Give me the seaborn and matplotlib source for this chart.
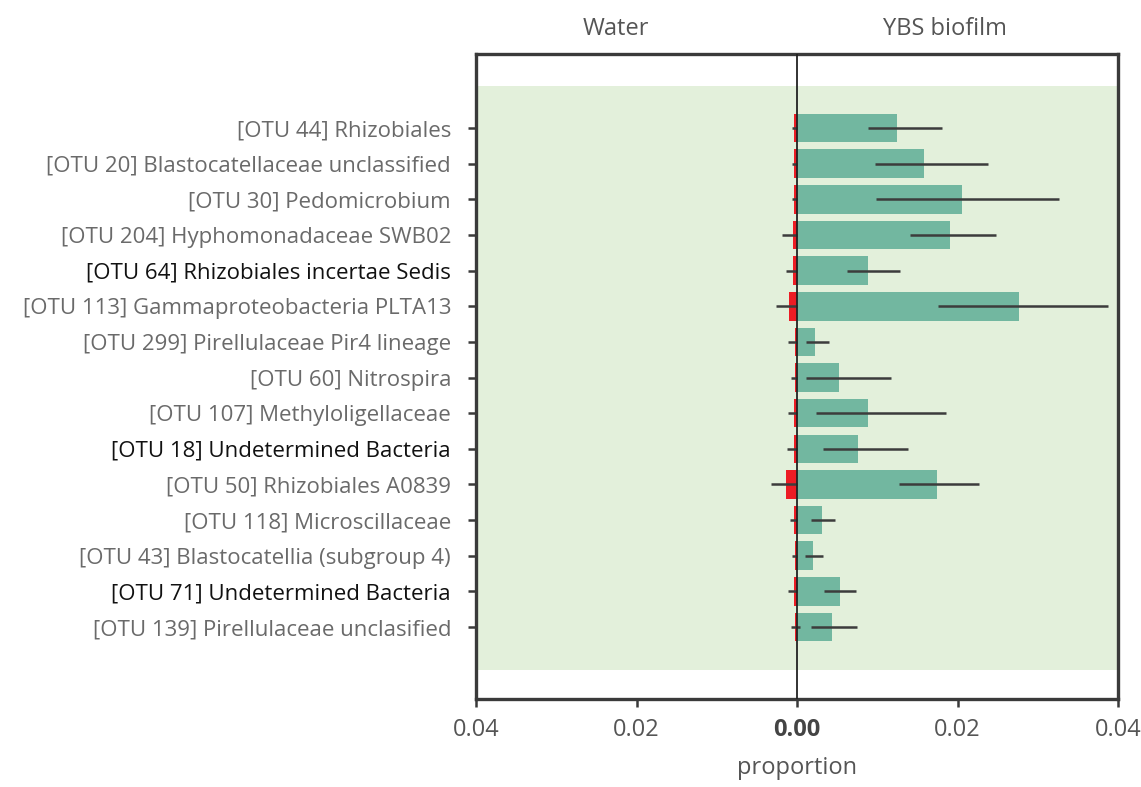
import matplotlib
matplotlib.use("Agg")
import matplotlib.pyplot as plt
import matplotlib.transforms as mtransforms
import numpy as np
import pandas as pd
import seaborn as sns

# OTUs, top to bottom
otus = [
    "[OTU 44] Rhizobiales",
    "[OTU 20] Blastocatellaceae unclassified",
    "[OTU 30] Pedomicrobium",
    "[OTU 204] Hyphomonadaceae SWB02",
    "[OTU 64] Rhizobiales incertae Sedis",
    "[OTU 113] Gammaproteobacteria PLTA13",
    "[OTU 299] Pirellulaceae Pir4 lineage",
    "[OTU 60] Nitrospira",
    "[OTU 107] Methyloligellaceae",
    "[OTU 18] Undetermined Bacteria",
    "[OTU 50] Rhizobiales A0839",
    "[OTU 118] Microscillaceae",
    "[OTU 43] Blastocatellia (subgroup 4)",
    "[OTU 71] Undetermined Bacteria",
    "[OTU 139] Pirellulaceae unclasified",
]
dark_labels = ["[OTU 64] Rhizobiales incertae Sedis",
               "[OTU 18] Undetermined Bacteria",
               "[OTU 71] Undetermined Bacteria"]

# mean proportion in water and its interval
water_mean = [0.0004, 0.0004, 0.0004, 0.00054, 0.00046, 0.00104, 0.0003, 0.0003,
              0.00042, 0.00042, 0.00137, 0.00033, 0.0003, 0.00038, 0.0003]
water_lo = [0.0, 0.0, 0.0, 0.0, 0.0, 0.0, 0.0, 0.0, 0.0, 0.0, 0.0, 0.0, 0.0, 0.0, -0.0004]
water_hi = [0.0006, 0.0006, 0.0006, 0.0019, 0.0014, 0.0026, 0.0011, 0.0007,
            0.00117, 0.0012, 0.0032, 0.0009, 0.00067, 0.0011, 0.0007]

# mean proportion in YBS biofilm and its interval
bio_mean = [0.0124, 0.0158, 0.0205, 0.0191, 0.0088, 0.0276, 0.0022, 0.00525,
            0.0089, 0.0076, 0.0175, 0.0031, 0.0020, 0.0053, 0.0044]
bio_lo = [0.0088, 0.00975, 0.0098, 0.0141, 0.00625, 0.0176, 0.0011, 0.0011,
          0.0023, 0.0032, 0.01275, 0.0018, 0.0010, 0.0034, 0.0018]
bio_hi = [0.0181, 0.0238, 0.0327, 0.0248, 0.0128, 0.0388, 0.0040, 0.0117,
          0.0186, 0.0138, 0.0227, 0.00475, 0.0032, 0.0074, 0.0075]

xticks = [-0.04, -0.02, 0.0, 0.02, 0.04]
xticklabels = ["0.04", "0.02", "0.00", "0.02", "0.04"]

sns.set_theme(style="white")
plt.rcParams["font.family"] = ["Open Sans", "DejaVu Sans"]

green = "#72b7a0"
red = "#ec1c24"
band = "#e3f0db"
label_gray = "#6a6a6a"
spine_col = "#3a3a3a"

df = pd.DataFrame({
    "otu": otus,
    "water": -np.array(water_mean),
    "biofilm": np.array(bio_mean),
})

fig = plt.figure(figsize=(11.41, 7.87), dpi=100)
ax = fig.add_axes([0.4172, 0.1118, 0.5627, 0.8196])

ax.axhspan(-1.18, 15.21, color=band, zorder=0, lw=0)

sns.barplot(data=df, y="otu", x="biofilm", order=otus, color=green,
            width=0.8, saturation=1, orient="h", ax=ax, zorder=2, linewidth=0)
sns.barplot(data=df, y="otu", x="water", order=otus, color=red,
            width=0.8, saturation=1, orient="h", ax=ax, zorder=2, linewidth=0)

ypos = np.arange(len(otus))
ax.hlines(ypos, bio_lo, bio_hi, color="#3c3c3c", lw=1.8, zorder=3)
ax.hlines(ypos, -np.array(water_hi), -np.array(water_lo), color="#3c3c3c", lw=1.8, zorder=3)

ax.axvline(0, color="#222222", lw=1.3, zorder=4)

ax.set_xlim(-0.04, 0.04)
ax.set_ylim(16.02, -2.08)

ax.set_xticks(xticks)
ax.set_xticklabels(xticklabels, fontsize=17, color="#555555")
for t in ax.get_xticklabels():
    if t.get_text() == "0.00":
        t.set_fontweight("bold")
        t.set_color("#444444")

ax.set_yticks(ypos)
ax.set_yticklabels(otus, fontsize=16)
for t in ax.get_yticklabels():
    t.set_color("#111111" if t.get_text() in dark_labels else label_gray)

ax.tick_params(axis="both", which="both", direction="out", length=6, width=1.8,
               color=spine_col, left=True, bottom=True)
ax.tick_params(axis="y", pad=12)
ax.tick_params(axis="x", pad=8)

for s in ax.spines.values():
    s.set_visible(True)
    s.set_color(spine_col)
    s.set_linewidth(2.4)

ax.set_ylabel("")
ax.set_xlabel("proportion", fontsize=17, color="#555555", labelpad=10)

trans = mtransforms.blended_transform_factory(ax.transData, fig.transFigure)
ax.text(-0.0226, 0.963, "Water", transform=trans, ha="center", va="center",
        fontsize=17, color="#555555")
ax.text(0.0184, 0.963, "YBS biofilm", transform=trans, ha="center", va="center",
        fontsize=17, color="#555555")

fig.savefig("out.png", dpi=100, facecolor="white")
